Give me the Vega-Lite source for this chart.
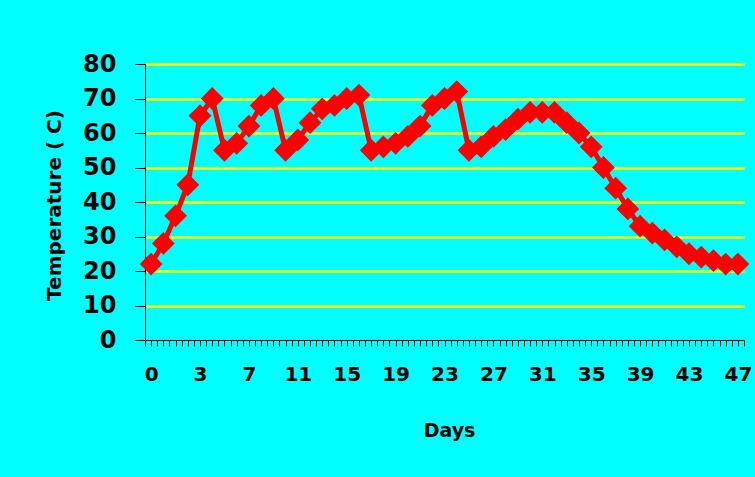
{
  "$schema": "https://vega.github.io/schema/vega-lite/v6.json",
  "width": 599,
  "height": 276,
  "autosize": {"type": "none"},
  "padding": {"left": 145, "top": 64, "right": 11, "bottom": 137},
  "background": "#00FFFF",
  "config": {"view": {"stroke": null}, "font": "DejaVu Sans"},
  "data": {"values": [
    {"n": 0, "temp": 22}, {"n": 1, "temp": 28}, {"n": 2, "temp": 36}, {"n": 3, "temp": 45},
    {"n": 4, "temp": 65}, {"n": 5, "temp": 70}, {"n": 6, "temp": 55}, {"n": 7, "temp": 57},
    {"n": 8, "temp": 62}, {"n": 9, "temp": 68}, {"n": 10, "temp": 70}, {"n": 11, "temp": 55},
    {"n": 12, "temp": 58}, {"n": 13, "temp": 63}, {"n": 14, "temp": 67}, {"n": 15, "temp": 68},
    {"n": 16, "temp": 70}, {"n": 17, "temp": 71}, {"n": 18, "temp": 55}, {"n": 19, "temp": 56},
    {"n": 20, "temp": 57}, {"n": 21, "temp": 59}, {"n": 22, "temp": 62}, {"n": 23, "temp": 68},
    {"n": 24, "temp": 70}, {"n": 25, "temp": 72}, {"n": 26, "temp": 55}, {"n": 27, "temp": 56},
    {"n": 28, "temp": 59}, {"n": 29, "temp": 61}, {"n": 30, "temp": 64}, {"n": 31, "temp": 66},
    {"n": 32, "temp": 66}, {"n": 33, "temp": 66}, {"n": 34, "temp": 63}, {"n": 35, "temp": 60},
    {"n": 36, "temp": 56}, {"n": 37, "temp": 50}, {"n": 38, "temp": 44}, {"n": 39, "temp": 38},
    {"n": 40, "temp": 33}, {"n": 41, "temp": 31}, {"n": 42, "temp": 29}, {"n": 43, "temp": 27},
    {"n": 44, "temp": 25}, {"n": 45, "temp": 24}, {"n": 46, "temp": 23}, {"n": 47, "temp": 22},
    {"n": 48, "temp": 22}
  ]},
  "encoding": {
    "x": {
      "field": "n",
      "type": "quantitative",
      "scale": {"domain": [-0.5, 48.5], "nice": false, "zero": false},
      "axis": {
        "values": [-0.5, 0, 0.5, 1, 1.5, 2, 2.5, 3, 3.5, 4, 4.5, 5, 5.5, 6, 6.5, 7, 7.5, 8, 8.5, 9, 9.5, 10, 10.5, 11, 11.5, 12, 12.5, 13, 13.5, 14, 14.5, 15, 15.5, 16, 16.5, 17, 17.5, 18, 18.5, 19, 19.5, 20, 20.5, 21, 21.5, 22, 22.5, 23, 23.5, 24, 24.5, 25, 25.5, 26, 26.5, 27, 27.5, 28, 28.5, 29, 29.5, 30, 30.5, 31, 31.5, 32, 32.5, 33, 33.5, 34, 34.5, 35, 35.5, 36, 36.5, 37, 37.5, 38, 38.5, 39, 39.5, 40, 40.5, 41, 41.5, 42, 42.5, 43, 43.5, 44, 44.5, 45, 45.5, 46, 46.5, 47, 47.5, 48, 48.5],
        "labelExpr": "datum.value % 4 === 0 ? (datum.value === 0 ? '0' : format(datum.value - 1, 'd')) : ''",
        "labelOverlap": false,
        "labelFlush": false,
        "labelFontSize": 20,
        "labelFontWeight": "bold",
        "labelColor": "#000000",
        "labelBaseline": "alphabetic",
        "labelPadding": 34,
        "tickSize": 6,
        "tickColor": "#000000",
        "domainColor": "#000000",
        "grid": false,
        "title": "Days",
        "titleFontSize": 19,
        "titleFontWeight": "bold",
        "titleColor": "#000000",
        "titleX": 304,
        "titleY": 96,
        "titleBaseline": "alphabetic",
        "titleAlign": "center"
      }
    },
    "y": {
      "field": "temp",
      "type": "quantitative",
      "scale": {"domain": [0, 80], "nice": false},
      "axis": {
        "values": [0, 10, 20, 30, 40, 50, 60, 70, 80],
        "labelFontSize": 24,
        "labelFontWeight": "bold",
        "labelColor": "#000000",
        "labelPadding": 19,
        "tickSize": 10,
        "tickColor": "#000000",
        "domainColor": "#000000",
        "grid": true,
        "gridColor": "#FFFF00",
        "gridWidth": 2.5,
        "gridOpacity": {"condition": {"test": "datum.value === 0", "value": 0}, "value": 1},
        "title": "Temperature ( C)",
        "titleFontSize": 20,
        "titleFontWeight": "bold",
        "titleColor": "#000000",
        "titleAngle": 270,
        "titleX": -85,
        "titleY": 141,
        "titleBaseline": "alphabetic",
        "titleAlign": "center"
      }
    }
  },
  "layer": [
    {"mark": {"type": "line", "color": "#FF0000", "strokeWidth": 5}},
    {"mark": {"type": "point", "shape": "diamond", "filled": true, "color": "#FF0000", "size": 520, "opacity": 1}}
  ]
}
